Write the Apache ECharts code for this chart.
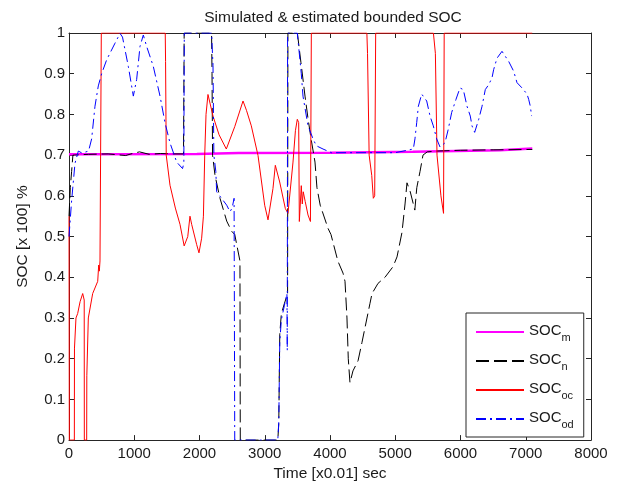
<!DOCTYPE html>
<html>
<head>
<meta charset="utf-8">
<script src="https://cdn.jsdelivr.net/npm/echarts@6/dist/echarts.min.js"></script>
<style>
html,body{margin:0;padding:0;background:#fff;}
#chart{width:618px;height:487px;}
</style>
</head>
<body>
<div id="chart"></div>
<script>
// ---- data (time in x0.01 s, SOC fraction) ----
const seriesNames = ['SOC_m', 'SOC_n', 'SOC_oc', 'SOC_od'];
const xTicks = [0, 1000, 2000, 3000, 4000, 5000, 6000, 7000, 8000];
const yTicks = [0, 0.1, 0.2, 0.3, 0.4, 0.5, 0.6, 0.7, 0.8, 0.9, 1];

const socM = [[0,0.702],[1960,0.703],[2600,0.705],[4000,0.706],[4010,0.708],[5270,0.708],[5280,0.712],[6600,0.712],[6610,0.716],[7100,0.716]];

const socN = [[0,0.55],[20,0.62],[40,0.66],[60,0.70],[300,0.702],[600,0.703],[870,0.699],[950,0.703],[1080,0.708],[1230,0.702],[1400,0.704],[1600,0.703],[1755,0.703],[1765,1],[2185,1],[2192,0.9],[2200,0.70],[2238,0.65],[2314,0.594],[2417,0.538],[2493,0.513],[2540,0.505],[2620,0.44],[2625,0],[3200,0],[3215,0.04],[3230,0.26],[3254,0.31],[3300,0.335],[3350,0.36],[3355,1],[3500,1],[3555,0.927],[3617,0.845],[3663,0.79],[3710,0.74],[3770,0.683],[3800,0.62],[3850,0.577],[3970,0.52],[4015,0.505],[4120,0.44],[4200,0.41],[4230,0.39],[4260,0.30],[4280,0.20],[4306,0.141],[4352,0.17],[4430,0.195],[4490,0.24],[4613,0.336],[4644,0.36],[4736,0.385],[4843,0.40],[4966,0.426],[5027,0.45],[5103,0.51],[5150,0.58],[5180,0.632],[5230,0.61],[5300,0.565],[5330,0.62],[5380,0.66],[5425,0.70],[5490,0.708],[5640,0.71],[6000,0.712],[6500,0.713],[7100,0.714]];

const socOC = [[0,0.55],[5,0],[82,0],[84,0.226],[105,0.226],[107,0.30],[133,0.311],[170,0.34],[210,0.36],[233,0.344],[235,0],[271,0],[273,0.158],[294,0.158],[296,0.30],[363,0.36],[440,0.39],[455,0.43],[465,0.415],[475,0.44],[490,0.44],[495,1],[1475,1],[1480,0.93],[1490,0.70],[1548,0.626],[1630,0.57],[1701,0.53],[1765,0.477],[1820,0.50],[1854,0.55],[1880,0.53],[1957,0.48],[1992,0.46],[2033,0.496],[2060,0.55],[2080,0.70],[2100,0.80],[2130,0.849],[2207,0.796],[2300,0.75],[2411,0.715],[2540,0.77],[2667,0.833],[2720,0.81],[2794,0.772],[2897,0.699],[2999,0.577],[3050,0.541],[3126,0.618],[3162,0.675],[3229,0.634],[3315,0.569],[3356,0.557],[3433,0.683],[3470,0.76],[3499,0.788],[3520,0.78],[3530,0.537],[3560,0.625],[3575,0.58],[3590,0.61],[3620,0.586],[3663,0.553],[3700,0.537],[3714,1],[4565,1],[4575,0.95],[4600,0.70],[4640,0.65],[4664,0.594],[4685,0.60],[4700,1],[5585,1],[5615,0.95],[5640,0.70],[5700,0.60],[5740,0.557],[5750,1],[7100,1]];

const socOD = [[0,0.50],[41,0.59],[92,0.68],[143,0.71],[200,0.705],[300,0.71],[347,0.74],[398,0.82],[449,0.87],[500,0.90],[577,0.934],[705,0.975],[782,0.999],[820,0.99],[909,0.918],[986,0.845],[1037,0.886],[1088,0.967],[1139,0.995],[1190,0.967],[1292,0.918],[1395,0.845],[1471,0.78],[1548,0.73],[1650,0.683],[1740,0.667],[1760,0.68],[1767,1],[2185,1],[2207,0.92],[2220,0.70],[2250,0.66],[2263,0.61],[2417,0.577],[2467,0.561],[2500,0.57],[2530,0.594],[2540,0],[3200,0],[3215,0.044],[3230,0.24],[3254,0.295],[3300,0.33],[3340,0.36],[3345,0.22],[3350,1],[3499,1],[3560,0.90],[3586,0.845],[3663,0.772],[3740,0.74],[3790,0.723],[3893,0.715],[4020,0.706],[5000,0.706],[5277,0.715],[5302,0.74],[5329,0.78],[5354,0.82],[5405,0.85],[5482,0.833],[5533,0.796],[5583,0.772],[5635,0.74],[5686,0.72],[5762,0.73],[5813,0.764],[5865,0.805],[5931,0.837],[5992,0.865],[6043,0.861],[6100,0.82],[6150,0.796],[6176,0.772],[6217,0.756],[6279,0.788],[6330,0.82],[6380,0.861],[6432,0.873],[6483,0.89],[6508,0.91],[6559,0.938],[6636,0.955],[6739,0.93],[6815,0.906],[6866,0.878],[6943,0.865],[7019,0.85],[7045,0.837],[7070,0.82],[7090,0.796]];

// ---- chart ----
const FONT = 'Liberation Sans, Arial, sans-serif';
const TXT = '#1a1a1a';
const AX = '#262626';
const chart = echarts.init(document.getElementById('chart'), null, {renderer: 'canvas'});

const xCommon = {type: 'value', min: xTicks[0], max: xTicks[xTicks.length - 1], interval: xTicks[1] - xTicks[0],
  splitLine: {show: false}, axisLine: {show: true, onZero: false, lineStyle: {color: AX, width: 1}},
  axisTick: {show: true, inside: true, length: 5, lineStyle: {color: AX}}};
const yCommon = {type: 'value', min: yTicks[0], max: yTicks[yTicks.length - 1], interval: 0.1,
  splitLine: {show: false}, axisLine: {show: true, onZero: false, lineStyle: {color: AX, width: 1}},
  axisTick: {show: true, inside: true, length: 5, lineStyle: {color: AX}}};

const subOf = {SOC_m: 'm', SOC_n: 'n', SOC_oc: 'oc', SOC_od: 'od'};

chart.setOption({
  animation: false,
  backgroundColor: '#fff',
  title: {text: 'Simulated & estimated bounded SOC', left: 328, textAlign: 'center', top: 5,
    textStyle: {fontFamily: FONT, fontSize: 15.5, fontWeight: 'normal', color: TXT}},
  grid: {left: 69, right: 27, top: 33, bottom: 43, containLabel: false},
  xAxis: [
    Object.assign({}, xCommon, {position: 'bottom', name: 'Time [x0.01] sec', nameLocation: 'middle', nameGap: 25,
      nameTextStyle: {fontFamily: FONT, fontSize: 15.5, color: TXT},
      axisLabel: {show: true, margin: 6, fontFamily: FONT, fontSize: 15, color: TXT, formatter: v => String(v)}}),
    Object.assign({}, xCommon, {position: 'top', axisLabel: {show: false}})
  ],
  yAxis: [
    Object.assign({}, yCommon, {position: 'left', name: 'SOC [x 100] %', nameLocation: 'middle', nameGap: 38,
      nameTextStyle: {fontFamily: FONT, fontSize: 15.5, color: TXT},
      axisLabel: {show: true, margin: 4, fontFamily: FONT, fontSize: 15, color: TXT,
        formatter: v => (v === 0 ? '0' : v === 1 ? '1' : v.toFixed(1))}}),
    Object.assign({}, yCommon, {position: 'right', axisLabel: {show: false}})
  ],
  legend: {
    orient: 'vertical', left: 466, top: 313, width: 118,
    padding: [8, 10, 7, 9], itemGap: 7, itemWidth: 48, itemHeight: 14,
    backgroundColor: '#fff', borderColor: AX, borderWidth: 1,
    itemStyle: {opacity: 0, color: 'transparent', borderWidth: 0},
    data: seriesNames,
    formatter: n => '{a|SOC}{s|' + subOf[n] + '}',
    textStyle: {fontFamily: FONT, color: TXT, padding: [0, 0, 0, 0],
      rich: {a: {fontFamily: FONT, fontSize: 15, color: TXT, lineHeight: 22, verticalAlign: 'top', padding: [2, 0, 0, 0]},
             s: {fontFamily: FONT, fontSize: 11, color: TXT, lineHeight: 22, verticalAlign: 'bottom', padding: [9, 0, 0, 0]}}}
  },
  series: [
    {name: 'SOC_m', type: 'line', data: socM, showSymbol: false, symbol: 'none', xAxisIndex: 0, yAxisIndex: 0,
      lineStyle: {color: '#ff00ff', width: 2.5}, itemStyle: {color: '#ff00ff'}, z: 2},
    {name: 'SOC_n', type: 'line', data: socN, showSymbol: false, symbol: 'none',
      lineStyle: {color: '#000000', width: 1, type: [13, 5]}, itemStyle: {color: '#000000'}, z: 3},
    {name: 'SOC_oc', type: 'line', data: socOC, showSymbol: false, symbol: 'none',
      lineStyle: {color: '#ff0000', width: 1}, itemStyle: {color: '#ff0000'}, z: 4},
    {name: 'SOC_od', type: 'line', data: socOD, showSymbol: false, symbol: 'none',
      lineStyle: {color: '#0000ff', width: 1, type: [10, 4, 2, 4]}, itemStyle: {color: '#0000ff'}, z: 5}
  ]
});
</script>
</body>
</html>
